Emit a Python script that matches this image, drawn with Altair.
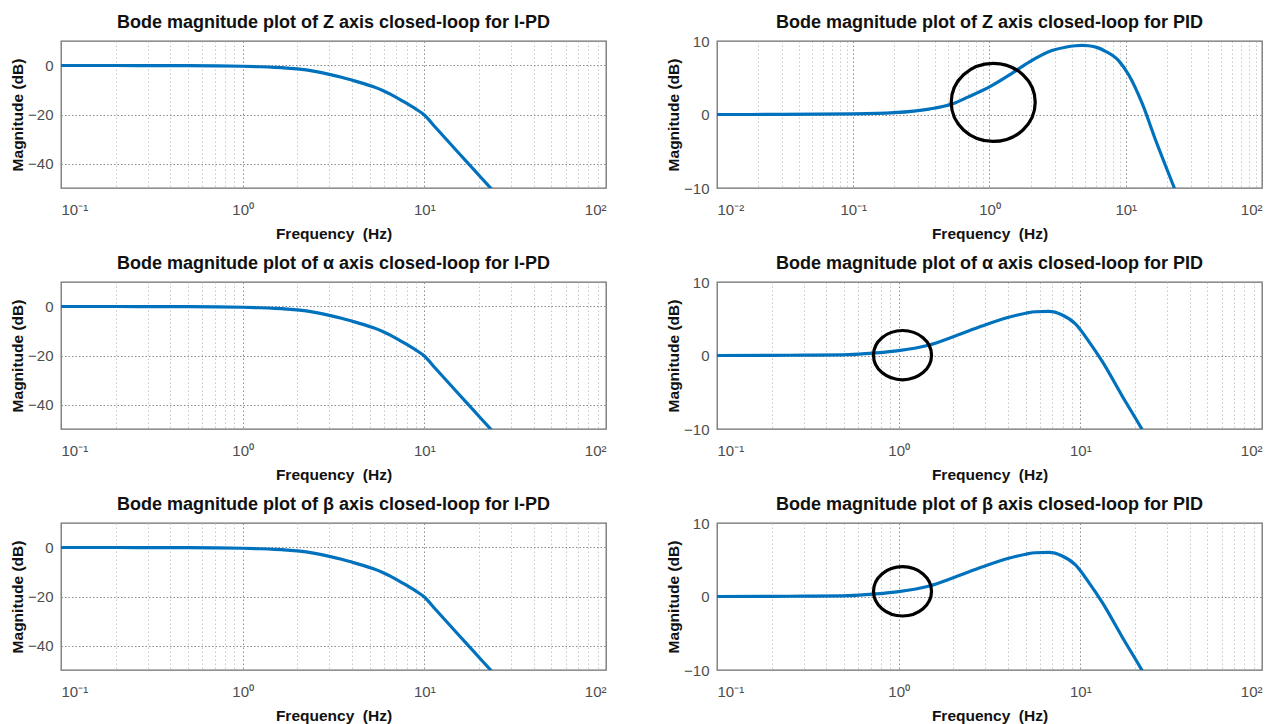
import altair as alt
import pandas as pd

# ---------------- data ----------------
ipd_freq = [0.1, 0.2, 0.35, 0.5, 0.7, 1.0, 1.25, 1.5, 1.75, 2.0, 2.5, 3.0, 3.5, 4.0,
            4.6, 5.25, 5.9, 6.5, 7.2, 8.0, 9.0, 10.0, 11.5, 13.2, 15.5, 17.8, 20.5, 23.5]
ipd_z_db = [0.0, -0.01, -0.03, -0.06, -0.14, -0.3, -0.5, -0.75, -1.05, -1.4, -2.4, -3.6,
            -4.8, -6.0, -7.3, -8.7, -10.2, -11.7, -13.5, -15.5, -17.8, -20.2, -25.2,
            -30.1, -35.8, -40.7, -45.7, -50.5]
ipd_alpha_db = [0.0, -0.01, -0.03, -0.06, -0.14, -0.3, -0.5, -0.75, -1.05, -1.4, -2.4, -3.6,
                -4.8, -6.0, -7.3, -8.7, -10.2, -11.7, -13.5, -15.5, -17.8, -20.2, -25.2,
                -30.1, -35.8, -40.7, -45.7, -50.5]
ipd_beta_db = [0.0, -0.01, -0.03, -0.06, -0.14, -0.3, -0.5, -0.75, -1.05, -1.4, -2.4, -3.6,
               -4.8, -6.0, -7.3, -8.7, -10.2, -11.7, -13.5, -15.5, -17.8, -20.2, -25.2,
               -30.1, -35.8, -40.7, -45.7, -50.5]

pid_z_freq = [0.01, 0.03, 0.1, 0.2, 0.36, 0.53, 0.7, 1.0, 1.46, 1.94, 2.87, 3.6, 4.27,
              4.8, 5.34, 6.2, 7.1, 8.9, 10.5, 13.2, 16.5, 22.5, 23.5]
pid_z_db = [0.0, 0.01, 0.08, 0.25, 0.74, 1.42, 2.4, 3.76, 5.6, 7.1, 8.7, 9.15, 9.35,
            9.4, 9.35, 9.1, 8.6, 7.3, 5.4, 1.5, -3.4, -9.8, -10.7]

pid_ab_freq = [0.1, 0.2, 0.3, 0.53, 0.74, 1.0, 1.46, 2.05, 2.87, 4.03, 5.0, 5.65, 6.7,
               7.9, 9.4, 11.1, 13.2, 16.9, 21.8, 23.0]
pid_alpha_db = [0.0, 0.02, 0.05, 0.12, 0.35, 0.67, 1.4, 2.65, 4.0, 5.2, 5.75, 5.95, 6.0,
                5.55, 4.3, 1.96, -0.8, -5.4, -10.0, -11.0]
pid_beta_db = [0.0, 0.02, 0.05, 0.12, 0.35, 0.67, 1.4, 2.65, 4.0, 5.2, 5.75, 5.95, 6.0,
               5.55, 4.3, 1.96, -0.8, -5.4, -10.0, -11.0]

# highlight ellipses: centre frequency, centre dB
circle_z = ([1.065], [1.65])
circle_alpha = ([1.05], [0.05])
circle_beta = ([1.05], [0.7])

titles = [
    "Bode magnitude plot of Z axis closed-loop for I-PD",
    "Bode magnitude plot of Z axis closed-loop for PID",
    "Bode magnitude plot of α axis closed-loop for I-PD",
    "Bode magnitude plot of α axis closed-loop for PID",
    "Bode magnitude plot of β axis closed-loop for I-PD",
    "Bode magnitude plot of β axis closed-loop for PID",
]

decades_a = [0.1, 1, 10, 100]
decades_b = [0.01, 0.1, 1, 10, 100]
yticks_ipd = [-40, -20, 0]
yticks_pid = [-10, 0, 10]

BLUE = "#0072BD"
FONT = "Liberation Sans"

E = "round(log(datum.value)/LN10)"
DEC_TEST = f"abs(log(datum.value)/LN10 - {E}) < 0.000001"
LABEL_EXPR = (f"!({DEC_TEST}) ? '' : {E} == -2 ? '10⁻²' : {E} == -1 ? '10⁻¹' : "
              f"{E} == 0 ? '10⁰' : {E} == 1 ? '10¹' : '10²'")


def all_ticks(decades):
    vals = []
    for d in decades[:-1]:
        vals += [k * d for k in range(1, 10)]
    vals.append(decades[-1])
    return vals


def panel(title, freq, db, decades, ydomain, yvals, title_offset,
          circle=None, ratio=0.9, csize=60):
    df = pd.DataFrame({"f": freq, "db": db})
    x = alt.X(
        "f:Q",
        scale=alt.Scale(type="log", domain=[decades[0], decades[-1]], nice=False),
        axis=alt.Axis(
            values=all_ticks(decades),
            labelExpr=LABEL_EXPR,
            labelOverlap=False,
            title="Frequency\u00a0 (Hz)",
            grid=True,
            gridColor={"condition": {"test": DEC_TEST, "value": "#8c8c8c"}, "value": "#c8c8c8"},
            gridDash=[1.5, 2.5],
            gridWidth=1,
            ticks=False,
            domain=False,
        ),
    )
    y = alt.Y(
        "db:Q",
        scale=alt.Scale(domain=ydomain, nice=False, zero=False),
        axis=alt.Axis(
            values=yvals,
            title="Magnitude (dB)",
            grid=True,
            gridColor="#8c8c8c",
            gridDash=[1.5, 2],
            ticks=False,
            domain=False,
        ),
    )
    line = alt.Chart(df).mark_line(
        color=BLUE, strokeWidth=3.2, clip=True, interpolate="monotone"
    ).encode(x=x, y=y)
    layers = [line]
    if circle is not None:
        cdf = pd.DataFrame({"f": circle[0], "db": circle[1]})
        path = f"M-1,0A1,{ratio},0,1,0,1,0A1,{ratio},0,1,0,-1,0Z"
        ring = alt.Chart(cdf).mark_point(
            shape=path, size=csize * csize, filled=False, stroke="black",
            strokeWidth=3.2, opacity=1
        ).encode(x=alt.X("f:Q"), y=alt.Y("db:Q"))
        layers.append(ring)
    return alt.layer(*layers).properties(
        width=545, height=147,
        title=alt.TitleParams(title, offset=title_offset, frame="group"),
    )


charts = [
    panel(titles[0], ipd_freq, ipd_z_db, decades_a, [-50, 10], yticks_ipd, 9),
    panel(titles[1], pid_z_freq, pid_z_db, decades_b, [-10, 10], yticks_pid, 2,
          circle_z, 0.93, 84),
    panel(titles[2], ipd_freq, ipd_alpha_db, decades_a, [-50, 10], yticks_ipd, 9),
    panel(titles[3], pid_ab_freq, pid_alpha_db, decades_a, [-10, 10], yticks_pid, 2,
          circle_alpha, 0.85, 58),
    panel(titles[4], ipd_freq, ipd_beta_db, decades_a, [-50, 10], yticks_ipd, 9),
    panel(titles[5], pid_ab_freq, pid_beta_db, decades_a, [-10, 10], yticks_pid, 2,
          circle_beta, 0.85, 58),
]

chart = alt.concat(*charts, columns=2, spacing={"row": 11, "column": 58}).configure_view(
    stroke="#6e6e6e", strokeWidth=1.3
).configure_axis(
    labelFont=FONT, labelFontSize=15, labelColor="#4d4d4d",
    titleFont=FONT, titleFontSize=15.5, titleFontWeight="bold", titleColor="#111111",
).configure_axisX(
    labelPadding=14, titlePadding=9,
).configure_axisY(
    labelPadding=8, titlePadding=2,
).configure_title(
    font=FONT, fontSize=18, fontWeight="bold", color="#111111", anchor="middle",
).properties(background="white",
             padding={"left": 1, "top": 5, "right": 5, "bottom": 0})

chart.save("out.html", embed_options={"renderer": "svg", "actions": False})
